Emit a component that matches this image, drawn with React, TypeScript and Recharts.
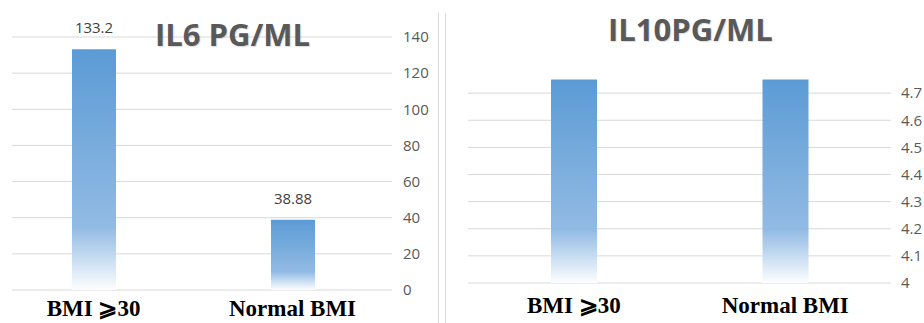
import React from 'react';
import { BarChart, Bar, XAxis, YAxis, CartesianGrid, LabelList } from 'recharts';

const groups = ['BMI ⩾30', 'Normal BMI'];
const il6Values = [133.2, 38.88];
const il10Values = [4.75, 4.75];
const il6Ticks = [0, 20, 40, 60, 80, 100, 120, 140];
const il10Ticks = [4, 4.1, 4.2, 4.3, 4.4, 4.5, 4.6, 4.7];

const il6Data = groups.map((name, i) => ({ name, value: il6Values[i] }));
const il10Data = groups.map((name, i) => ({ name, value: il10Values[i] }));

const tickStyle = { fontFamily: '"Open Sans", sans-serif', fontSize: 15, fill: '#595959' };
const catStyle = { fontFamily: '"Liberation Serif", serif', fontSize: 23, fontWeight: 700, fill: '#000' };
const titleStyle: React.CSSProperties = {
  position: 'absolute',
  fontFamily: '"Open Sans", sans-serif',
  fontWeight: 700,
  fontSize: 31,
  color: '#595959',
  textShadow: '1px 1px 1px rgba(0,0,0,0.15)',
  whiteSpace: 'nowrap',
  lineHeight: '1',
};

const Fade = ({ id }: { id: string }) => (
  <defs>
    <linearGradient id={id} x1="0" y1="0" x2="0" y2="1">
      <stop offset="0%" stopColor="#5B9BD5" />
      <stop offset="74%" stopColor="#92BBE4" />
      <stop offset="100%" stopColor="#FDFEFF" />
    </linearGradient>
  </defs>
);

export default function App() {
  return (
    <div style={{ position: 'absolute', left: 0, top: 0, width: 924, height: 323, background: '#fff', overflow: 'hidden' }}>
      {/* IL6 */}
      <div style={{ position: 'absolute', left: 0, top: 0 }}>
        <BarChart width={440} height={323} data={il6Data} margin={{ top: 37, right: 8, bottom: 0, left: 0 }}>
          <Fade id="fade6" />
          <CartesianGrid vertical={false} stroke="#d9d9d9" x={12} width={380} syncWithTicks />
          <XAxis
            dataKey="name"
            axisLine={false}
            tickLine={false}
            height={33}
            tickMargin={4}
            padding={{ left: -6, right: 0 }}
            tick={catStyle}
            interval={0}
          />
          <YAxis
            orientation="right"
            domain={[0, 140]}
            ticks={il6Ticks}
            axisLine={false}
            tickLine={false}
            tickMargin={5}
            width={40}
            tick={tickStyle}
          />
          <Bar dataKey="value" fill="url(#fade6)" barSize={44} isAnimationActive={false}>
            <LabelList dataKey="value" position="top" offset={16} style={{ ...tickStyle, fill: '#404040' }} />
          </Bar>
        </BarChart>
      </div>
      <div style={{ ...titleStyle, left: 155, top: 19 }}>IL6 PG/ML</div>

      {/* separators */}
      <div style={{ position: 'absolute', left: 438, top: 13, width: 1, height: 310, background: '#d9d9d9' }} />
      <div style={{ position: 'absolute', left: 445, top: 13, width: 1, height: 310, background: '#d9d9d9' }} />

      {/* IL10 */}
      <div style={{ position: 'absolute', left: 447, top: 0 }}>
        <BarChart width={477} height={323} data={il10Data} margin={{ top: 66, right: 3, bottom: 0, left: 21 }}>
          <Fade id="fade10" />
          <CartesianGrid vertical={false} stroke="#d9d9d9" syncWithTicks />
          <XAxis
            dataKey="name"
            axisLine={false}
            tickLine={false}
            height={40}
            tickMargin={8}
            tick={catStyle}
            interval={0}
          />
          <YAxis
            orientation="right"
            domain={[4, 4.8]}
            ticks={il10Ticks}
            axisLine={false}
            tickLine={false}
            tickMargin={4}
            width={30}
            tick={tickStyle}
          />
          <Bar dataKey="value" fill="url(#fade10)" barSize={46} isAnimationActive={false} />
        </BarChart>
      </div>
      <div style={{ ...titleStyle, left: 608, top: 14 }}>IL10PG/ML</div>
    </div>
  );
}
